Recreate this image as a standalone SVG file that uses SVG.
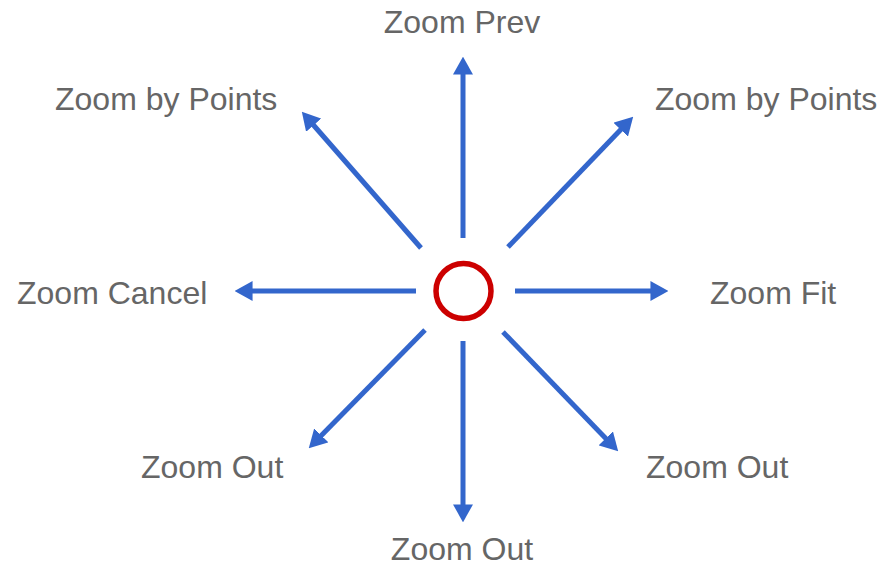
<svg xmlns="http://www.w3.org/2000/svg" width="880" height="565" viewBox="0 0 880 565">
<style>
.lbl{font-family:"Liberation Sans",Arial,sans-serif;font-size:32px;fill:#666666}
.arr{stroke:#3366CC;stroke-width:5;fill:none;marker-end:url(#head)}
</style>
<defs>
<marker id="head" markerUnits="userSpaceOnUse" markerWidth="18" markerHeight="20" viewBox="0 0 17 19" refX="11" refY="9.5" orient="auto">
<path d="M0,0 L17,9.5 L0,19 z" fill="#3366CC"/>
</marker>
</defs>
<rect width="880" height="565" fill="#ffffff"/>
<g id="connectors">
<line class="arr" x1="463" y1="238" x2="463" y2="63"/>
<line class="arr" x1="463" y1="341" x2="463" y2="516"/>
<line class="arr" x1="416" y1="291" x2="241" y2="291"/>
<line class="arr" x1="515" y1="291" x2="662" y2="291"/>
<line class="arr" x1="421" y1="248" x2="306" y2="116.5"/>
<line class="arr" x1="508" y1="247" x2="628.8" y2="121.3"/>
<line class="arr" x1="425" y1="330" x2="313.2" y2="443.7"/>
<line class="arr" x1="503" y1="332" x2="613.8" y2="446.7"/>
</g>
<g id="center"><circle cx="463.5" cy="291" r="27.5" fill="none" stroke="#CC0000" stroke-width="5.5"/></g>
<g id="zoom-prev"><text class="lbl" x="462" y="33" text-anchor="middle">Zoom Prev</text></g>
<g id="zoom-by-points-left"><text class="lbl" x="55" y="110">Zoom by Points</text></g>
<g id="zoom-by-points-right"><text class="lbl" x="655" y="110">Zoom by Points</text></g>
<g id="zoom-cancel"><text class="lbl" x="17" y="304">Zoom Cancel</text></g>
<g id="zoom-fit"><text class="lbl" x="710" y="304">Zoom Fit</text></g>
<g id="zoom-out-left"><text class="lbl" x="141" y="478">Zoom Out</text></g>
<g id="zoom-out-right"><text class="lbl" x="646" y="478">Zoom Out</text></g>
<g id="zoom-out-bottom"><text class="lbl" x="462" y="560" text-anchor="middle">Zoom Out</text></g>
</svg>
